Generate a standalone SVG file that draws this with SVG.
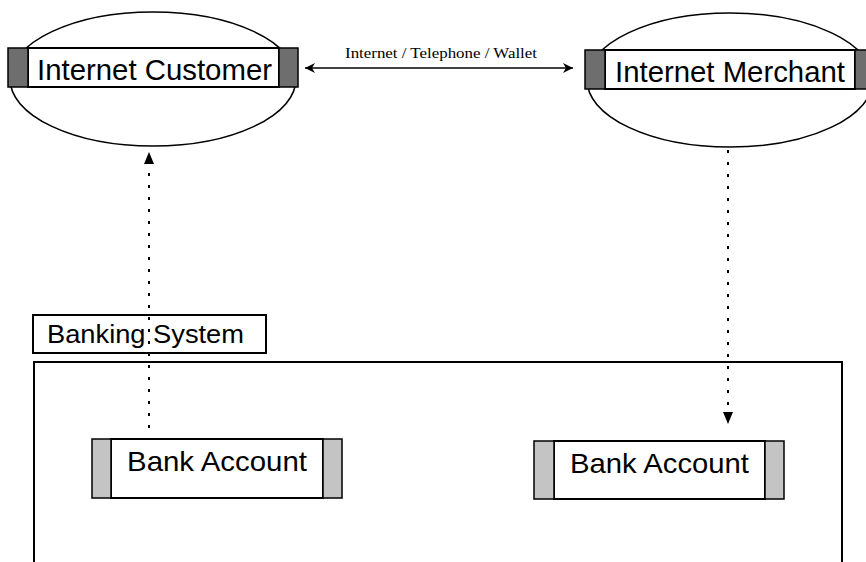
<svg xmlns="http://www.w3.org/2000/svg" width="866" height="562" viewBox="0 0 866 562">
<defs>
<style>
.ell{fill:#fff;stroke:#000;stroke-width:1.6}
.box{fill:#fff;stroke:#000;stroke-width:2}
.dark{fill:#6e6e6e;stroke:#000;stroke-width:1.5}
.light{fill:#c4c4c4;stroke:#000;stroke-width:1.5}
.lbl{font-family:"Liberation Sans",Arial,sans-serif;fill:#000}
.ser{font-family:"Liberation Serif","Times New Roman",serif;fill:#000}
.dot{stroke:#000;stroke-width:2;stroke-dasharray:3 9;fill:none}
.solid{stroke:#000;stroke-width:1.6;fill:none}
</style>
<marker id="ah" viewBox="0 0 10 10" refX="10" refY="5" markerWidth="10" markerHeight="10" markerUnits="userSpaceOnUse" orient="auto-start-reverse">
<path d="M0,0 L10,5 L0,10 L3,5 z" fill="#000"/>
</marker>
</defs>
<rect width="866" height="562" fill="#fff"/>

<g id="banking-system">
<path d="M34,562 V362 H842 V562" class="box" fill="none"/>
</g>
<g id="banking-system-label">
<rect x="33" y="315" width="233" height="38" class="box"/>
<text x="47" y="343" font-size="25" textLength="197" lengthAdjust="spacingAndGlyphs" class="lbl">Banking System</text>
</g>

<g id="internet-customer">
<ellipse cx="153" cy="79" rx="143" ry="67" class="ell"/>
<rect x="28" y="48" width="251" height="39" class="box"/>
<rect x="8" y="48" width="20" height="39" class="dark"/>
<rect x="279" y="48" width="19" height="39" class="dark"/>
<text x="37" y="80" font-size="30" textLength="235" lengthAdjust="spacingAndGlyphs" class="lbl">Internet Customer</text>
</g>

<g id="internet-merchant">
<ellipse cx="730" cy="80" rx="143" ry="67" class="ell"/>
<rect x="605" y="50" width="250" height="39" class="box"/>
<rect x="585" y="50" width="20" height="39" class="dark"/>
<rect x="855" y="50" width="20" height="39" class="dark"/>
<text x="615" y="82" font-size="29" textLength="230" lengthAdjust="spacingAndGlyphs" class="lbl">Internet Merchant</text>
</g>

<g id="bank-account-1">
<rect x="111" y="439" width="212" height="59" class="box"/>
<rect x="92" y="439" width="19" height="59" class="light"/>
<rect x="323" y="439" width="19" height="59" class="light"/>
<text x="127" y="471" font-size="28" textLength="180" lengthAdjust="spacingAndGlyphs" class="lbl">Bank Account</text>
</g>

<g id="bank-account-2">
<rect x="554" y="441" width="211" height="58" class="box"/>
<rect x="534" y="441" width="20" height="58" class="light"/>
<rect x="765" y="441" width="19" height="58" class="light"/>
<text x="570" y="473" font-size="28" textLength="179" lengthAdjust="spacingAndGlyphs" class="lbl">Bank Account</text>
</g>

<g id="connectors">
<line x1="305" y1="68" x2="573" y2="68" class="solid" marker-start="url(#ah)" marker-end="url(#ah)"/>
<text x="345" y="58" font-size="14" textLength="192" lengthAdjust="spacingAndGlyphs" class="ser">Internet  /  Telephone / Wallet</text>
<line x1="149" y1="428" x2="149" y2="163" class="dot"/>
<path d="M149,152 L144,164 L154,164 z" fill="#000"/>
<line x1="728" y1="150" x2="728" y2="412" class="dot"/>
<path d="M728,424 L723,412 L733,412 z" fill="#000"/>
</g>
</svg>
